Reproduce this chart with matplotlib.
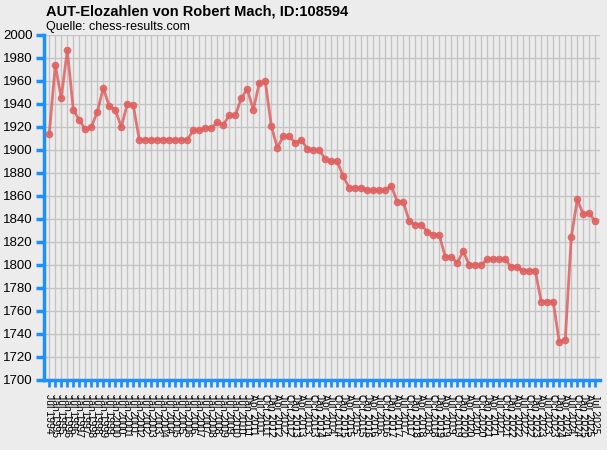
import matplotlib
matplotlib.use("Agg")
import matplotlib.pyplot as plt

title = "AUT-Elozahlen von Robert Mach, ID:108594"
subtitle = "Quelle: chess-results.com"

dates = [
    "Jul 1994",
    "Jan 1995", "Jul 1995", "Jan 1996", "Jul 1996", "Jan 1997", "Jul 1997",
    "Jan 1998", "Jul 1998", "Jan 1999", "Jul 1999", "Jan 2000", "Jul 2000",
    "Jan 2001", "Jul 2001", "Jan 2002", "Jul 2002", "Jan 2003", "Jul 2003",
    "Jan 2004", "Jul 2004", "Jan 2005", "Jul 2005", "Jan 2006", "Jul 2006",
    "Jan 2007", "Jul 2007", "Jan 2008", "Jul 2008", "Jan 2009", "Jul 2009",
    "Jan 2010", "Jul 2010", "Jan 2011",
    "Apr 2011", "Jul 2011", "Oct 2011",
    "Jan 2012", "Apr 2012", "Jul 2012", "Oct 2012",
    "Jan 2013", "Apr 2013", "Jul 2013", "Oct 2013",
    "Jan 2014", "Apr 2014", "Jul 2014", "Oct 2014",
    "Jan 2015", "Apr 2015", "Jul 2015", "Oct 2015",
    "Jan 2016", "Apr 2016", "Jul 2016", "Oct 2016",
    "Jan 2017", "Apr 2017", "Jul 2017", "Oct 2017",
    "Jan 2018", "Apr 2018", "Jul 2018", "Oct 2018",
    "Jan 2019", "Apr 2019", "Jul 2019", "Oct 2019",
    "Jan 2020", "Apr 2020", "Jul 2020", "Oct 2020",
    "Jan 2021", "Apr 2021", "Jul 2021", "Oct 2021",
    "Jan 2022", "Apr 2022", "Jul 2022", "Oct 2022",
    "Jan 2023", "Apr 2023", "Jul 2023", "Oct 2023",
    "Jan 2024", "Apr 2024", "Jul 2024", "Oct 2024",
    "Jan 2025", "Apr 2025", "Jul 2025",
]

elo = [
    1914, 1974, 1945, 1987, 1935, 1926, 1918, 1920, 1933, 1954,
    1938, 1935, 1920, 1940, 1939, 1909, 1909, 1909, 1909, 1909,
    1909, 1909, 1909, 1909, 1917, 1917, 1919, 1919, 1924, 1922,
    1930, 1930, 1945, 1953, 1935, 1958, 1960, 1921, 1902, 1912,
    1912, 1906, 1909, 1901, 1900, 1900, 1892, 1890, 1890, 1877,
    1867, 1867, 1867, 1865, 1865, 1865, 1865, 1869, 1855, 1855,
    1838, 1835, 1835, 1829, 1826, 1826, 1807, 1807, 1802, 1812,
    1800, 1800, 1800, 1805, 1805, 1805, 1805, 1798, 1798, 1795,
    1795, 1795, 1768, 1768, 1768, 1733, 1735, 1824, 1857, 1844,
    1845, 1838,
]

y_ticks = list(range(1700, 2001, 20))

BG = "#ececec"
BLUE = "#1e8fff"
LINE = "#e06060"

fig = plt.figure(figsize=(6.07, 4.5), dpi=100, facecolor=BG)
ax = fig.add_axes([44 / 607, 1 - 380 / 450, 556 / 607, 345 / 450], facecolor=BG)

x = list(range(len(elo)))
ax.plot(x, elo, color=LINE, lw=2, alpha=0.85, marker="o", ms=4.5,
        mfc=LINE, mec=LINE, mew=1, zorder=3)

ax.set_xlim(-0.88, 91.79)
ax.set_ylim(1700, 2000)
ax.set_yticks(y_ticks)
ax.set_xticks(x)
ax.set_xticklabels(dates, rotation=-90, fontsize=7.5, family="Liberation Sans",
                   color="black")
for lab in ax.get_yticklabels():
    lab.set_family("Liberation Sans")
    lab.set_fontsize(9.5)

ax.grid(True, color="#c4c4c4", lw=1, zorder=0)
ax.set_axisbelow(True)

for s in ["top", "right"]:
    ax.spines[s].set_visible(False)
for s in ["left", "bottom"]:
    ax.spines[s].set_color(BLUE)
    ax.spines[s].set_linewidth(2.5)

ax.tick_params(axis="y", colors=BLUE, length=6, width=2.5, labelcolor="black", pad=2)
ax.tick_params(axis="x", colors=BLUE, length=5, width=2, labelcolor="black", pad=5)

fig.text(46 / 607, 1 - 12 / 450, title, fontsize=10.5, fontweight="bold",
         family="Liberation Sans", va="center", ha="left")
fig.text(46 / 607, 1 - 27 / 450, subtitle, fontsize=9,
         family="Liberation Sans", va="center", ha="left")

fig.savefig("out.png", dpi=100, facecolor=BG)
